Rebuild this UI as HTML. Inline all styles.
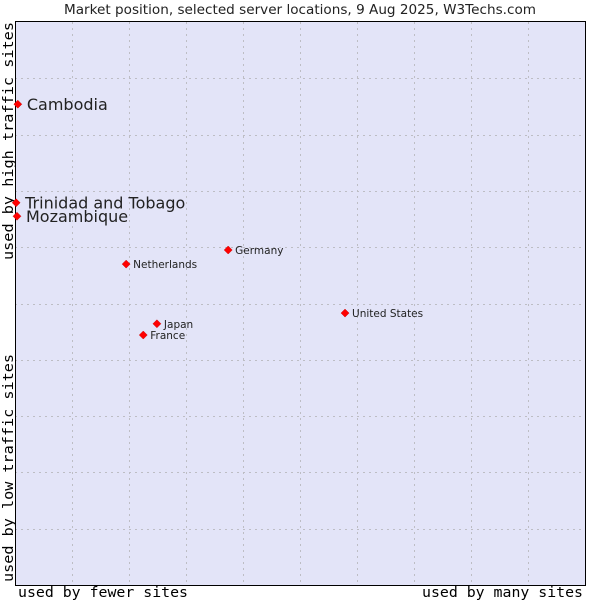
<!DOCTYPE html>
<html><head><meta charset="utf-8"><style>
body{margin:0;background:#fff;width:600px;height:600px;overflow:hidden}
svg text{font-family:"DejaVu Sans","Liberation Sans",sans-serif;fill:#222}
.mono{font-family:"DejaVu Sans Mono","Liberation Mono",monospace !important;fill:#000}
</style></head><body>
<svg id="chart" width="600" height="600">
<text x="64" y="14" font-size="13" textLength="472" lengthAdjust="spacingAndGlyphs">Market position, selected server locations, 9 Aug 2025, W3Techs.com</text>
<rect x="15" y="22" width="570" height="563" fill="#e3e4f8"/>
<g id="grid"></g>
<rect x="15.5" y="21.5" width="570" height="564" stroke="#000" fill="none"/>
<text class="mono" x="18" y="597" font-size="14.5" textLength="170" lengthAdjust="spacingAndGlyphs">used by fewer sites</text>
<text class="mono" x="422" y="597" font-size="14.5" textLength="161" lengthAdjust="spacingAndGlyphs">used by many sites</text>
<text class="mono" transform="translate(13,582) rotate(-90)" font-size="14.5" textLength="228" lengthAdjust="spacingAndGlyphs">used by low traffic sites</text>
<text class="mono" transform="translate(13,260) rotate(-90)" font-size="14.5" textLength="238" lengthAdjust="spacingAndGlyphs">used by high traffic sites</text>
<g id="points"></g>
</svg>
<script>
const names=["Cambodia","Trinidad and Tobago","Mozambique","Netherlands","Germany","United States","Japan","France"];
const xValues=[0.5,0.2,0.35,19.5,37.4,57.9,24.9,22.5];
const yValues=[85.4,67.9,65.5,57.0,59.5,48.3,46.4,44.4];
const highlighted=[true,true,true,false,false,false,false,false];
const X0=15,X1=585,Y0=585,Y1=22;
const sx=v=>X0+v/100*(X1-X0);
const sy=v=>Y0-v/100*(Y0-Y1);
const NS="http://www.w3.org/2000/svg";
const grid=document.getElementById('grid');
for(let i=1;i<10;i++){
  const v=document.createElementNS(NS,'line');
  const x=Math.round(sx(i*10))+0.5;
  v.setAttribute('x1',x);v.setAttribute('x2',x);v.setAttribute('y1',Y1);v.setAttribute('y2',Y0);
  v.setAttribute('stroke','#bdbdc4');v.setAttribute('stroke-dasharray','2,4');
  
  
  grid.appendChild(v);
  const h=document.createElementNS(NS,'line');
  const y=Math.round(sy(i*10))+0.5;
  h.setAttribute('x1',X0);h.setAttribute('x2',X1);h.setAttribute('y1',y);h.setAttribute('y2',y);
  h.setAttribute('stroke','#bdbdc4');h.setAttribute('stroke-dasharray','2,4');
  
  
  grid.appendChild(h);
}
const pts=document.getElementById('points');
names.forEach((n,i)=>{
  const x=sx(xValues[i]),y=sy(yValues[i]);
  const g=document.createElementNS(NS,'g');
  
  
  const d=document.createElementNS(NS,'path');
  d.setAttribute('d',`M${x} ${y-4}L${x+4} ${y}L${x} ${y+4}L${x-4} ${y}Z`);
  d.setAttribute('fill','#f00');d.setAttribute('stroke','#c00');d.setAttribute('stroke-width','0.5');
  
  
  g.appendChild(d);
  const t=document.createElementNS(NS,'text');
  const big=highlighted[i];
  t.setAttribute('x',x+(big?9:7));t.setAttribute('y',y+(big?6:4));
  t.setAttribute('font-size',big?16:10.5);
  t.textContent=n;
  
  
  g.appendChild(t);
  pts.appendChild(g);
});
</script>
</body></html>
